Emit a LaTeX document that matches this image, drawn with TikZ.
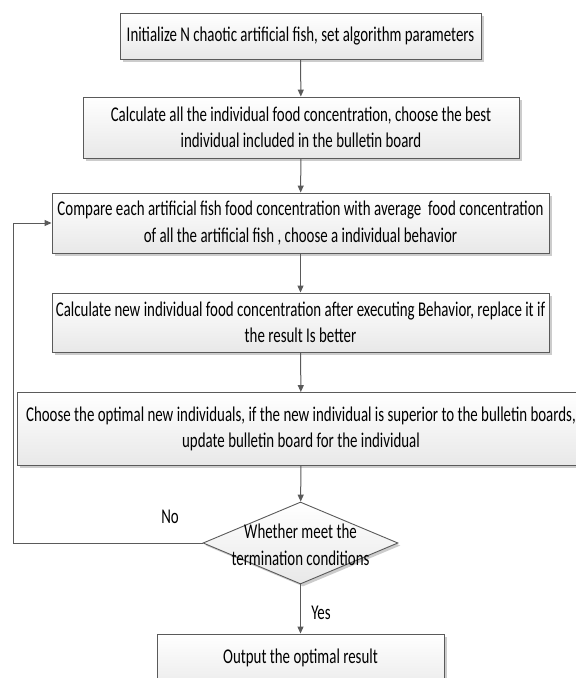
\documentclass[tikz,border=0pt]{standalone}
\usepackage{fontspec}
\setmainfont{Carlito}[FakeStretch=0.71]
\usetikzlibrary{shapes.geometric,shadows,arrows.meta}
\definecolor{linec}{HTML}{5a5a5a}
\tikzset{
  box/.style={draw=linec, line width=0.9pt, top color=white, bottom color=gray!18,
    general shadow={shadow xshift=2.5pt, shadow yshift=-2.5pt, fill=gray!40},
    inner sep=0pt, align=center, font=\fontsize{21}{26.5}\selectfont},
  dia/.style={draw=linec, line width=0.9pt, shape=diamond, top color=white, bottom color=gray!18,
    general shadow={shadow xshift=2.5pt, shadow yshift=-2.5pt, fill=gray!40},
    inner sep=0pt, minimum width=195pt, minimum height=82pt},
  lbl/.style={align=center, inner sep=0pt, font=\fontsize{21}{26.5}\selectfont},
  arr/.style={draw=linec, line width=1pt, -{Triangle[length=7pt,width=6pt]}},
}
\begin{document}
\begin{tikzpicture}[x=1pt,y=-1pt]
\useasboundingbox (0,0) rectangle (576,678);
\node[box, minimum width=361pt, minimum height=46pt] (b1) at (300.5,36) {Initialize N chaotic artificial fish, set algorithm parameters};
\node[box, minimum width=436pt, minimum height=61pt] (b2) at (301,127.5) {Calculate all the individual food concentration, choose the best\\individual included in the bulletin board};
\node[box, minimum width=497pt, minimum height=60pt] (b3) at (300.5,223) {Compare each artificial fish food concentration with average \ food concentration\\of all the artificial fish , choose a individual behavior};
\node[box, minimum width=497pt, minimum height=59pt] (b4) at (300.5,322.5) {Calculate new individual food concentration after executing Behavior, replace it if\\the result Is better};
\node[box, minimum width=568pt, minimum height=73pt] (b5) at (301,429) {Choose the optimal new individuals, if the new individual is superior to the bulletin boards,\\update bulletin board for the individual};
\node[dia] (d) at (300.5,543) {};
\node[lbl] (dt) at (300.5,545) {Whether meet the\\termination conditions};
\node[box, minimum width=287pt, minimum height=62pt] (b6) at (300.5,665) {};
\node[lbl] (b6t) at (300.5,658) {Output the optimal result};
\coordinate (fb) at (13,543);
\draw[arr] (b1) -- (b2);
\draw[arr] (b2) -- (b3);
\draw[arr] (b3) -- (b4);
\draw[arr] (b4) -- (b5);
\draw[arr] (b5) -- (d);
\draw[arr] (d) -- (b6);
\draw[arr] (d.west) -- (fb) |- (b3.west);
\node[lbl] (no) at (170,517) {No};
\node[lbl] (yes) at (321,613) {Yes};
\end{tikzpicture}
\end{document}
